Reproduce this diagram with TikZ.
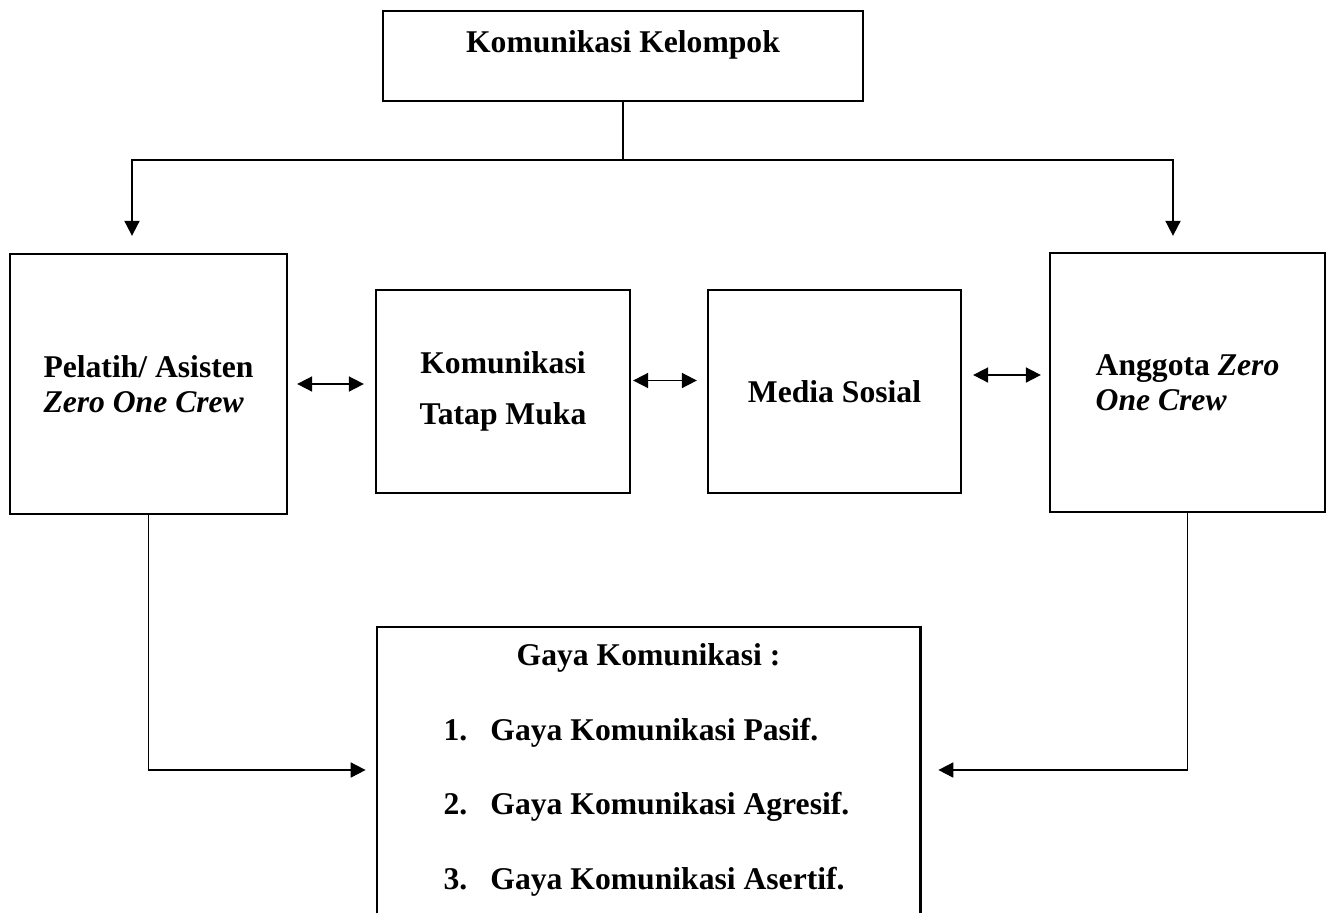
\documentclass[tikz,border=0pt]{standalone}
\usepackage{fontspec}
\setmainfont{Liberation Serif}
\usepackage{tikz}
\usetikzlibrary{arrows.meta,positioning}
\tikzstyle{panah} = [line width=1pt,->,>={Triangle[length=0.3cm,width=0.3cm]}]
\tikzstyle{panahdua} = [line width=1pt,<->,>={Triangle[length=0.3cm,width=0.3cm]}]
\newcommand{\butir}[2]{\makebox[8.2cm][l]{\makebox[0.94cm][l]{#1}Gaya Komunikasi #2}}

\begin{document}
\begin{tikzpicture}[
    node distance=7cm,
    kotak/.style={rectangle, draw=black, line width=1.3pt, font=\fontsize{18}{20}\selectfont\bfseries},
    bingkai/.style={line width=1.3pt}
]
\useasboundingbox (0,0) rectangle (26.6,-18.26);

% Top node
\node (kelompok) [kotak, minimum width=9.6cm, inner sep=0pt, text height=0.82cm, text depth=0.98cm] at (12.46,-1.12) {Komunikasi Kelompok};

% Middle row
\node (pelatih) [kotak, minimum width=5.54cm, minimum height=5.2cm, align=left] at (2.97,-7.68) {Pelatih/ Asisten\\\textit{Zero One Crew}};
\node (tatap) [kotak, right of=pelatih, xshift=0.09cm, yshift=-0.15cm, minimum width=5.08cm, minimum height=4.06cm, align=center, font=\fontsize{18}{29}\selectfont\bfseries] {Komunikasi\\Tatap Muka};
\node (media) [kotak, right of=tatap, xshift=-0.37cm, minimum width=5.06cm, minimum height=4.06cm] {Media Sosial};
\node (anggota) [kotak, right of=media, xshift=0.06cm, yshift=0.18cm, minimum width=5.5cm, minimum height=5.18cm, align=left] {Anggota \textit{Zero}\\\textit{One Crew}};

% Bottom node (open at the bottom)
\node (gaya) [minimum width=10.86cm, minimum height=5.72cm, align=center, font=\fontsize{18}{42.5}\selectfont\bfseries] at (12.97,-15.4) {Gaya Komunikasi :\\\butir{1.}{Pasif.}\\\butir{2.}{Agresif.}\\\butir{3.}{Asertif.}};
\draw[bingkai] (gaya.south west) |- (gaya.north east) -- (gaya.south east);

% Connections
\draw[panah] (kelompok.south) -- ++(0,-1.16) -| ([xshift=-0.33cm, yshift=0.34cm]pelatih.north);
\draw[panah] (kelompok.south) -- ++(0,-1.16) -| ([xshift=-0.29cm, yshift=0.32cm]anggota.north);
\draw[panahdua, shorten <=0.18cm, shorten >=0.22cm] (pelatih.east) -- (pelatih.east -| tatap.west);
\draw[panahdua, shorten <=0.04cm, shorten >=0.2cm] ([yshift=0.22cm]tatap.east) -- ([yshift=0.22cm]media.west);
\draw[panahdua, shorten <=0.22cm, shorten >=0.16cm] ([yshift=0.33cm]media.east) -- ([yshift=0.33cm]media.east -| anggota.west);
\draw[panah, shorten >=0.22cm] (pelatih.south) |- (gaya.west);
\draw[panah, shorten >=0.36cm] (anggota.south) |- (gaya.east);
\end{tikzpicture}
\end{document}
